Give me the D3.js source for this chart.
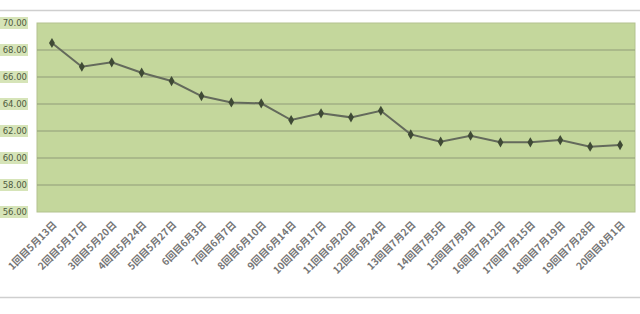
<!DOCTYPE html>
<html>
<head>
<meta charset="utf-8">
<script src="https://cdn.jsdelivr.net/npm/d3@7"></script>
<style>
  body { margin: 0; background: #fff; }
  svg { display: block; }
</style>
</head>
<body>
<svg id="chart" width="640" height="314"></svg>
<script>
// data
const categories = ["1回目5月13日", "2回目5月17日", "3回目5月20日", "4回目5月24日", "5回目5月27日",
    "6回目6月3日", "7回目6月7日", "8回目6月10日", "9回目6月14日", "10回目6月17日",
    "11回目6月20日", "12回目6月24日", "13回目7月2日", "14回目7月5日", "15回目7月9日",
    "16回目7月12日", "17回目7月15日", "18回目7月19日", "19回目7月28日", "20回目8月1日"];
const values = [68.52, 66.76, 67.09, 66.32, 65.70, 64.59, 64.12, 64.05, 62.81, 63.31,
    63.01, 63.50, 61.75, 61.21, 61.65, 61.16, 61.16, 61.33, 60.84, 60.96];
const yTicks = [70, 68, 66, 64, 62, 60, 58, 56];

const svg = d3.select("#chart");
const plot = {left: 37, right: 635, top: 23, bottom: 212};

// outer frame lines
svg.append("line").attr("x1", 0).attr("x2", 640).attr("y1", 10.5).attr("y2", 10.5)
    .attr("stroke", "#cfcfcf").attr("stroke-width", 1.5);
svg.append("line").attr("x1", 0).attr("x2", 640).attr("y1", 297.5).attr("y2", 297.5)
    .attr("stroke", "#cfcfcf").attr("stroke-width", 1.5);

const x = d3.scaleBand().domain(categories).range([plot.left, plot.right]);
const y = d3.scaleLinear().domain([56, 70]).range([plot.bottom, plot.top]);

svg.append("rect")
    .attr("x", plot.left).attr("y", plot.top)
    .attr("width", plot.right - plot.left).attr("height", plot.bottom - plot.top)
    .attr("fill", "#c4d79c").attr("stroke", "#b3c28f");

// gridlines
svg.append("g")
    .selectAll("line")
    .data(yTicks.filter(d => d > 56 && d < 70))
    .join("line")
    .attr("x1", plot.left).attr("x2", plot.right)
    .attr("y1", d => y(d)).attr("y2", d => y(d))
    .attr("stroke", "#8f9c78").attr("stroke-width", 1.2);

// y tick labels with their pale green boxes
const yl = svg.append("g");
yl.selectAll("rect")
    .data(yTicks)
    .join("rect")
    .attr("x", 0).attr("y", d => y(d) - 6)
    .attr("width", 28).attr("height", 12)
    .attr("fill", "#d6e4b8");
yl.selectAll("text")
    .data(yTicks)
    .join("text")
    .attr("x", 27).attr("y", d => y(d))
    .attr("dy", "0.35em")
    .attr("text-anchor", "end")
    .style("font", "8.5px 'DejaVu Sans', sans-serif")
    .attr("fill", "#4f5a3e")
    .text(d => d.toFixed(2));

// x tick labels, rotated
svg.append("g")
    .selectAll("text")
    .data(categories)
    .join("text")
    .attr("transform", d => `translate(${x(d) + x.bandwidth() / 2 + 3},${plot.bottom + 11}) rotate(-45)`)
    .attr("text-anchor", "end")
    .attr("dy", "0.35em")
    .style("font", "bold 10px 'Noto Sans CJK JP', sans-serif")
    .attr("fill", "#777")
    .text(d => d);

// series line
const cx = d => x(d) + x.bandwidth() / 2;
const line = d3.line()
    .x((d, i) => cx(categories[i]))
    .y(d => y(d));

svg.append("path")
    .datum(values)
    .attr("d", line)
    .attr("fill", "none")
    .attr("stroke", "#646a5c")
    .attr("stroke-width", 2);

svg.append("g")
    .selectAll("path")
    .data(values)
    .join("path")
    .attr("d", d3.symbol(d3.symbolDiamond, 30))
    .attr("transform", (d, i) => `translate(${cx(categories[i])},${y(d)})`)
    .attr("fill", "#3f4a35");
</script>
</body>
</html>
